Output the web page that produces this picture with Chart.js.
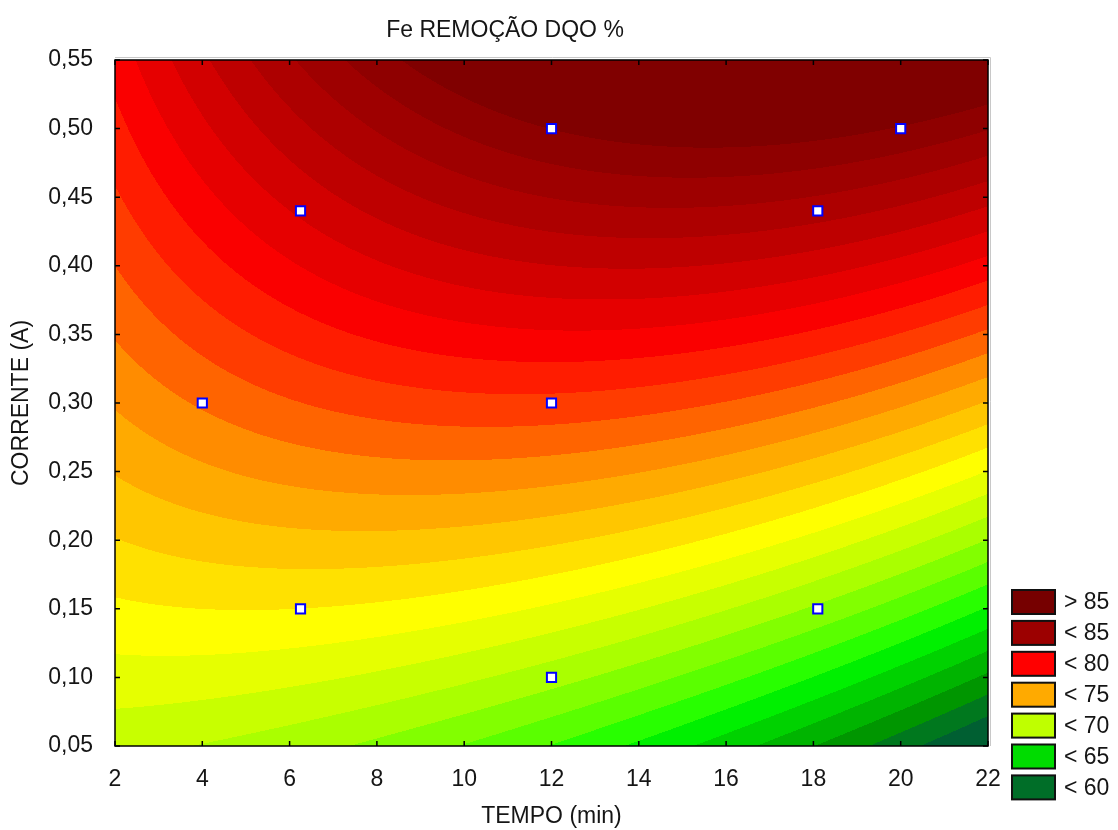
<!DOCTYPE html>
<html>
<head>
<meta charset="utf-8">
<script src="https://cdn.jsdelivr.net/npm/chart.js@4.4.1/dist/chart.umd.min.js"></script>
<style>
  html, body { margin: 0; padding: 0; background: #fff; }
  #wrap { width: 1118px; height: 830px; }
</style>
</head>
<body>
<div id="wrap"><canvas id="surface" width="1118" height="830"></canvas></div>
<script>
// experimental runs: tempo (min) and corrente (A)
const runTempo = [4, 6.25, 6.25, 12, 12, 12, 18.1, 18.1, 20];
const runCorrente = [0.30, 0.44, 0.15, 0.50, 0.30, 0.10, 0.44, 0.15, 0.50];

// fitted response surface, centred on tempo 12 / corrente 0.30
// terms: [b0, t, c, t^2, c^2, t*c, t^2*c]
const fitCenter = [12, 0.30];
const fitCoef = [78.7, -0.06, 44, -0.032, -12, 1.9, -0.048];

// contour levels (1 % steps) and the fill below / above each
const bandLevels = [61, 62, 63, 64, 65, 66, 67, 68, 69, 70, 71, 72, 73, 74,
  75, 76, 77, 78, 79, 80, 81, 82, 83, 84, 85, 86, 87];
const bandColors = [
  [0, 95, 50], [0, 120, 30], [0, 150, 0], [0, 180, 0], [0, 210, 0], [0, 240, 0],
  [40, 255, 0], [90, 255, 0], [130, 255, 0], [170, 255, 0], [200, 255, 0], [230, 255, 0],
  [255, 255, 0], [255, 225, 0], [255, 198, 0], [255, 170, 0], [255, 140, 0], [255, 100, 0],
  [255, 60, 0], [255, 28, 0], [250, 0, 0], [230, 0, 0], [210, 0, 0], [190, 0, 0],
  [173, 0, 0], [158, 0, 0], [143, 0, 0], [128, 0, 0]
];

const xTicks = [2, 4, 6, 8, 10, 12, 14, 16, 18, 20, 22];
const yTicks = [0.05, 0.10, 0.15, 0.20, 0.25, 0.30, 0.35, 0.40, 0.45, 0.50, 0.55];

const legendLabels = ['> 85', '< 85', '< 80', '< 75', '< 70', '< 65', '< 60'];
const legendColors = ['#760000', '#9c0000', '#ff0000', '#ffaa00', '#bfff00', '#00dc00', '#006e28'];

const FONT = 'Liberation Sans, Arial, sans-serif';
const TEXT = '#151515';

function surface(t, c) {
  const dt = t - fitCenter[0], dc = c - fitCenter[1];
  const b = fitCoef;
  return b[0] + b[1] * dt + b[2] * dc + b[3] * dt * dt + b[4] * dc * dc
    + b[5] * dt * dc + b[6] * dt * dt * dc;
}

function bandIndex(z) {
  let i = 0;
  while (i < bandLevels.length && z >= bandLevels[i]) i++;
  return i;
}

// filled contour painted pixel by pixel under the points
const contourFill = {
  id: 'contourFill',
  beforeDatasetsDraw(chart) {
    const { ctx, chartArea: a, scales: { x, y } } = chart;
    const left = Math.round(a.left), top = Math.round(a.top);
    const w = Math.round(a.right) - left, h = Math.round(a.bottom) - top;
    const img = ctx.createImageData(w, h);
    const xs = [], ys = [];
    for (let px = 0; px < w; px++) xs.push(x.getValueForPixel(left + px + 0.5));
    for (let py = 0; py < h; py++) ys.push(y.getValueForPixel(top + py + 0.5));
    let k = 0;
    for (let py = 0; py < h; py++) {
      for (let px = 0; px < w; px++) {
        const col = bandColors[bandIndex(surface(xs[px], ys[py]))];
        img.data[k++] = col[0];
        img.data[k++] = col[1];
        img.data[k++] = col[2];
        img.data[k++] = 255;
      }
    }
    ctx.putImageData(img, left, top);
  }
};

// frame, inward tick marks, title and level legend
const decorations = {
  id: 'decorations',
  afterDatasetsDraw(chart) {
    const { ctx, chartArea: a, scales: { x, y } } = chart;
    ctx.save();
    ctx.strokeStyle = '#000';
    ctx.lineWidth = 1.5;
    ctx.strokeRect(a.left, a.top, a.right - a.left, a.bottom - a.top);
    ctx.beginPath();
    const tl = 5;
    xTicks.forEach(v => {
      const px = x.getPixelForValue(v);
      ctx.moveTo(px, a.bottom); ctx.lineTo(px, a.bottom - tl);
      ctx.moveTo(px, a.top); ctx.lineTo(px, a.top + tl);
    });
    yTicks.forEach(v => {
      const py = y.getPixelForValue(v);
      ctx.moveTo(a.left, py); ctx.lineTo(a.left + tl, py);
      ctx.moveTo(a.right, py); ctx.lineTo(a.right - tl, py);
    });
    ctx.stroke();
    ctx.strokeStyle = '#c8c8c8';
    ctx.lineWidth = 1;
    ctx.beginPath();
    ctx.moveTo(a.left, a.top - 2.5); ctx.lineTo(a.right + 2.5, a.top - 2.5); ctx.lineTo(a.right + 2.5, a.bottom);
    ctx.stroke();

    ctx.fillStyle = TEXT;
    ctx.font = '23px ' + FONT;
    ctx.textAlign = 'center';
    ctx.textBaseline = 'middle';
    ctx.fillText('Fe REMOÇÃO DQO %', 505, 31);

    ctx.textAlign = 'left';
    legendLabels.forEach((label, i) => {
      const by = 590 + i * 30.9;
      ctx.fillStyle = legendColors[i];
      ctx.fillRect(1012, by, 43, 24);
      ctx.strokeStyle = '#111';
      ctx.lineWidth = 2;
      ctx.strokeRect(1012, by, 43, 24);
      ctx.fillStyle = TEXT;
      ctx.fillText(label, 1064, by + 13);
    });
    ctx.restore();
  }
};

new Chart(document.getElementById('surface'), {
  type: 'scatter',
  data: {
    datasets: [{
      data: runTempo.map((t, i) => ({ x: t, y: runCorrente[i] })),
      pointStyle: 'rect',
      pointRadius: 6.5,
      pointHoverRadius: 6.5,
      pointBorderWidth: 2,
      borderColor: '#0000ff',
      backgroundColor: '#ffffff'
    }]
  },
  options: {
    responsive: false,
    devicePixelRatio: 1,
    animation: false,
    layout: { padding: { top: 60, right: 130, left: 0, bottom: 0 } },
    plugins: { legend: { display: false }, title: { display: false }, tooltip: { enabled: false } },
    scales: {
      x: {
        type: 'linear',
        min: 2, max: 22,
        afterBuildTicks: s => { s.ticks = xTicks.map(v => ({ value: v })); },
        afterFit: s => { s.height = 84; },
        grid: { display: false },
        border: { display: false },
        ticks: { font: { family: FONT, size: 23 }, color: TEXT, padding: 12, maxRotation: 0 },
        title: { display: true, text: 'TEMPO (min)', color: TEXT, font: { family: FONT, size: 23 }, padding: { top: 0, bottom: 0 } }
      },
      y: {
        type: 'linear',
        min: 0.05, max: 0.55,
        afterBuildTicks: s => { s.ticks = yTicks.map(v => ({ value: v })); },
        afterFit: s => { s.width = 115; },
        grid: { display: false },
        border: { display: false },
        ticks: {
          font: { family: FONT, size: 23 }, color: TEXT, padding: 14,
          callback: v => v.toFixed(2).replace('.', ',')
        },
        title: { display: true, text: 'CORRENTE (A)', color: TEXT, font: { family: FONT, size: 23 }, padding: { top: 8, bottom: 0 } }
      }
    }
  },
  plugins: [contourFill, decorations]
});
</script>
</body>
</html>
